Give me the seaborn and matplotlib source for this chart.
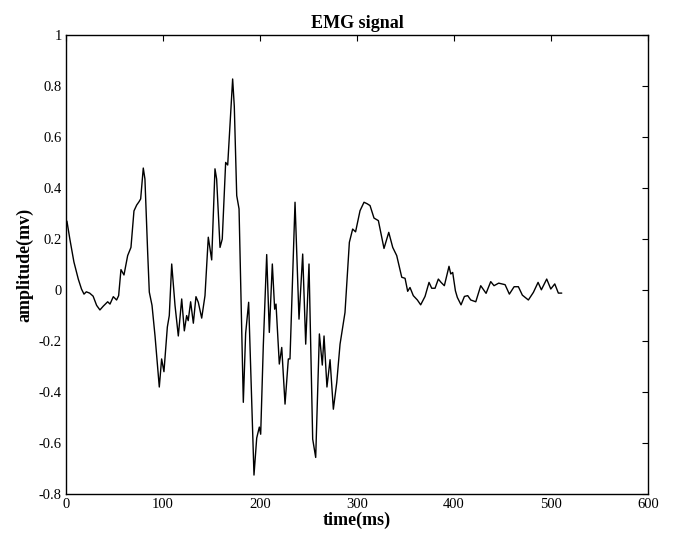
import matplotlib
matplotlib.use("Agg")
import matplotlib.pyplot as plt
import seaborn as sns
import pandas as pd

# EMG trace (time in ms, amplitude in mV)
time_ms = [0, 1, 4, 8.2, 12.7, 16, 18.6, 21, 24.4, 28, 31.6, 35, 38.5, 43, 45.4,
           48.8, 52.2, 54.3, 56.7, 59.8, 63.6, 67, 70.1, 72.9, 75.3, 77, 79.7,
           81.4, 84.2, 85.9, 88.7, 91.8, 96.2, 98.6, 101, 104.5, 106.5, 109,
           112.4, 115.8, 119.3, 122, 124.4, 126, 128.5, 131.3, 134, 136.4,
           139.9, 143.3, 146.7, 150.2, 153.6, 155.3, 158.8, 161.1, 164.6,
           166.7, 171.8, 173.5, 176, 178.4, 182.8, 185.2, 188.3, 193.8, 196.6,
           199.3, 200.7, 203.4, 206.9, 209.6, 212.7, 215.1, 216.5, 219.9,
           222.4, 225.8, 229.2, 230.9, 236.1, 240.2, 244, 247.1, 250.5, 254.3,
           257.4, 261.2, 264.2, 266, 269, 272.2, 275.6, 279.1, 282.5, 287.6,
           292.1, 295.5, 298.5, 303.1, 307.2, 310.5, 313.4, 317.5, 322, 327.8,
           332.7, 336.8, 340.9, 346.1, 349.5, 352.2, 354.6, 358, 362.2, 365.6,
           370.1, 374.2, 377, 380.4, 383.8, 386.6, 390, 394.8, 396.6, 398.6,
           401.4, 403.4, 407.2, 410.7, 414.1, 417.2, 422.4, 427.5, 433, 437.8,
           441.2, 446, 452.6, 457, 461.9, 466.3, 470.4, 476.6, 481.8, 486.6,
           490, 495.5, 499.7, 503.8, 507.5, 511]
amplitude = [0.25, 0.27, 0.2, 0.11, 0.043, 0.004, -0.016, -0.007, -0.012, -0.024,
             -0.06, -0.078, -0.063, -0.046, -0.055, -0.026, -0.039, -0.022, 0.08,
             0.059, 0.135, 0.167, 0.31, 0.333, 0.346, 0.357, 0.478, 0.435, 0.149,
             -0.008, -0.06, -0.18, -0.38, -0.27, -0.32, -0.145, -0.1, 0.102,
             -0.06, -0.18, -0.035, -0.16, -0.1, -0.12, -0.046, -0.13, -0.026,
             -0.048, -0.11, -0.022, 0.207, 0.118, 0.475, 0.435, 0.167, 0.2, 0.5,
             0.49, 0.827, 0.72, 0.37, 0.318, -0.44, -0.17, -0.048, -0.725, -0.58,
             -0.537, -0.565, -0.218, 0.139, -0.166, 0.102, -0.075, -0.055, -0.29,
             -0.225, -0.447, -0.27, -0.27, 0.344, -0.114, 0.141, -0.212, 0.102,
             -0.584, -0.656, -0.172, -0.294, -0.18, -0.38, -0.273, -0.467, -0.362,
             -0.212, -0.088, 0.187, 0.239, 0.228, 0.311, 0.344, 0.338, 0.331,
             0.282, 0.272, 0.163, 0.226, 0.167, 0.135, 0.05, 0.046, -0.005, 0.01,
             -0.022, -0.039, -0.058, -0.025, 0.03, 0.007, 0.007, 0.043, 0.03,
             0.017, 0.093, 0.063, 0.069, -0.003, -0.029, -0.058, -0.025, -0.022,
             -0.039, -0.046, 0.017, -0.013, 0.033, 0.017, 0.027, 0.021, -0.016,
             0.013, 0.013, -0.02, -0.039, -0.009, 0.03, 0.001, 0.043, 0.004,
             0.024, -0.012, -0.012]

xticks = [0, 100, 200, 300, 400, 500, 600]
yticks = [-0.8, -0.6, -0.4, -0.2, 0, 0.2, 0.4, 0.6, 0.8, 1]
ytick_labels = ["-0.8", "-0.6", "-0.4", "-0.2", "0", "0.2", "0.4", "0.6", "0.8", "1"]

df = pd.DataFrame({"time": time_ms, "amp": amplitude})

sns.set_style("white")
plt.rcParams["font.family"] = ["Liberation Serif", "DejaVu Serif"]
plt.rcParams["text.color"] = "black"
plt.rcParams["axes.labelcolor"] = "black"

fig = plt.figure(figsize=(6.73, 5.36), dpi=100)
ax = fig.add_axes([0.098, 0.078, 0.865, 0.857])

sns.lineplot(data=df, x="time", y="amp", color="black", linewidth=1.0,
             estimator=None, sort=False, ax=ax)

ax.set_xlim(0, 600)
ax.set_ylim(-0.8, 1)
ax.set_xticks(xticks)
ax.set_yticks(yticks)
ax.set_yticklabels(ytick_labels)
ax.tick_params(direction="in", length=4, width=0.8, top=True, right=True,
               labelsize=10.5, colors="black", pad=3)
for s in ax.spines.values():
    s.set_color("black")
    s.set_linewidth(1.0)

ax.set_title("EMG signal", fontsize=13, fontweight="bold", pad=5, color="black")
ax.set_xlabel("time(ms)", fontsize=13, fontweight="bold", labelpad=0, color="black")
ax.set_ylabel("amplitude(mv)", fontsize=13, fontweight="bold", labelpad=4, color="black")

fig.savefig("out.png", dpi=100)
